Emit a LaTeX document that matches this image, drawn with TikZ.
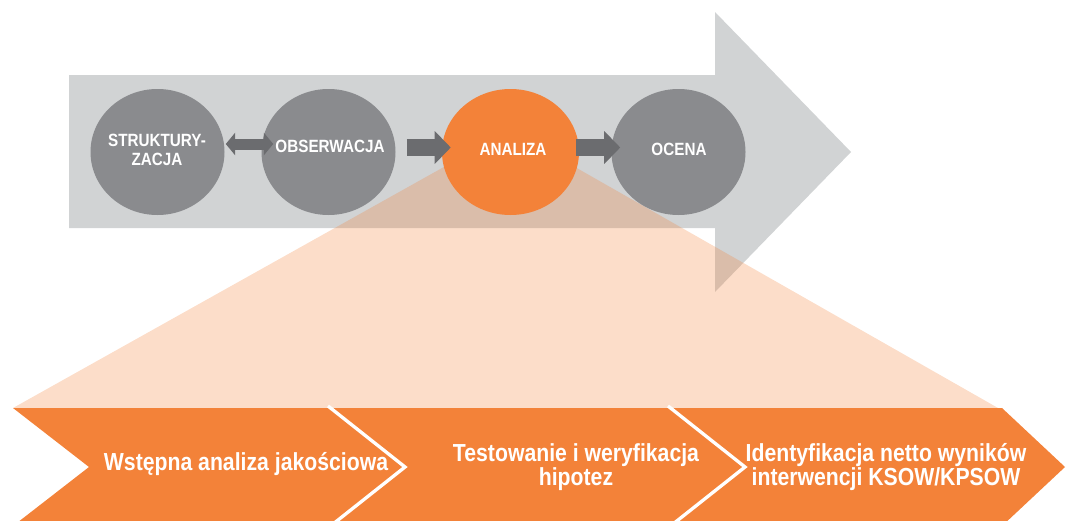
\documentclass[tikz,border=0pt]{standalone}
\usepackage{fontspec}
\usetikzlibrary{shapes.geometric,arrows.meta,calc}
\newfontfamily\lblfont[FakeStretch=0.86]{Liberation Sans}

\definecolor{trackgrey}{HTML}{D1D3D4}
\definecolor{stagegrey}{HTML}{8A8B8E}
\definecolor{linkgrey}{HTML}{6B6C6F}
\definecolor{accent}{HTML}{F38239}

\begin{document}
\begin{tikzpicture}[x=0.75pt,y=-0.75pt,
  stage/.style={ellipse, fill=stagegrey, minimum width=100.5pt,
    minimum height=94.5pt, inner sep=0pt},
  stagetext/.style={text=white, align=center, inner sep=0pt,
    font=\lblfont\bfseries\fontsize{13.3}{14.25}\selectfont},
  steptext/.style={text=white, align=center, inner sep=0pt,
    font=\lblfont\bfseries\fontsize{18.5}{16.5}\selectfont},
  oneway/.style={draw=linkgrey, line width=12.75pt,
    -{Triangle[length=12pt,width=24pt]}},
  twoway/.style={draw=linkgrey, line width=8.25pt,
    {Triangle[length=7pt,width=16.5pt]}-{Triangle[length=7pt,width=16.5pt]}},
  divider/.style={draw=white, line width=2.5pt, line join=miter}
]
\useasboundingbox (0,0) rectangle (1067,521);

% large process arrow in the background
\fill[trackgrey] (69,75) -- (715,75) -- (715,12) -- (851,152)
  -- (715,292) -- (715,228) -- (69,228) -- cycle;

% translucent wedge fanning out from the analysis stage
\fill[accent, opacity=0.27] (510,130) -- (998,408) -- (13,408) -- cycle;

% process stages
\node[stage] (s1) at (157.5,152) {};
\node[stage] (s2) at (328.5,152) {};
\node[stage, fill=accent, minimum width=102.75pt] (s3) at (510.5,152) {};
\node[stage] (s4) at (678.5,152) {};

\node[stagetext] (l1) at (157,150) {STRUKTURY-\\ZACJA};
\node[stagetext] (l2) at (330,146.5) {OBSERWACJA};
\node[stagetext] (l3) at (513,149) {ANALIZA};
\node[stagetext] (l4) at (679,149) {OCENA};

% links between stages
\draw[twoway] ($(s1.east)+(1,-8)$) -- ($(s2.west)+(12,-8)$);
\draw[oneway] ($(s2.east)+(11,-4.5)$) -- ($(s3.west)+(9,-4.5)$);
\draw[oneway] ($(s3.east)+(-3,-4.5)$) -- ($(s4.west)+(9,-4.5)$);

% chevron band with the analysis steps
\fill[accent] (13,408) -- (1002,408) -- (1065,467) -- (1002,526)
  -- (13,526) -- (89,467) -- cycle;
\draw[divider] (328,406) -- (405,467) -- (328,528);
\draw[divider] (668,406) -- (745,467) -- (668,528);

\node[steptext] (t1) at (246,464) {Wstępna analiza jakościowa};
\node[steptext] (t2) at (576,467) {Testowanie i weryfikacja\\hipotez};
\node[steptext] (t3) at (886,467) {Identyfikacja netto wyników\\interwencji KSOW/KPSOW};
\end{tikzpicture}
\end{document}
